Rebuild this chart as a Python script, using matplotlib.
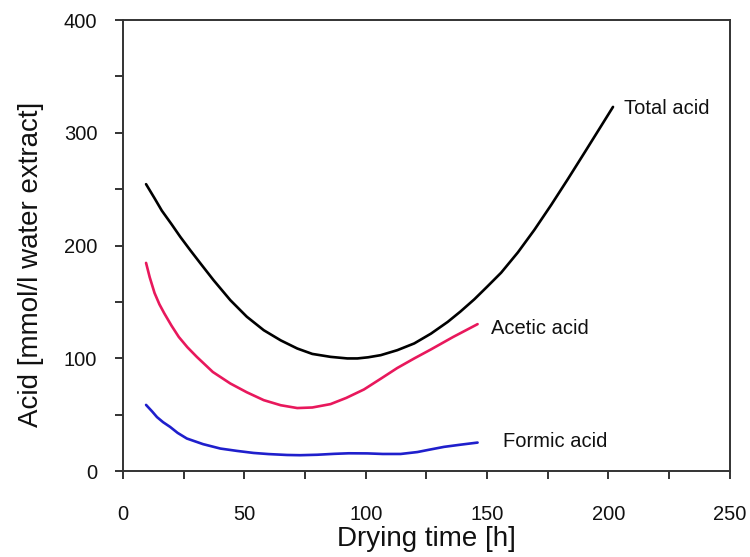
import matplotlib
matplotlib.use("Agg")
import matplotlib.pyplot as plt
from matplotlib.ticker import MultipleLocator

plt.rcParams['font.family'] = ['Liberation Sans', 'DejaVu Sans']

# Drying time [h] and acid concentrations [mmol/l water extract]
total_time = [9.5, 13, 16, 20, 23.6, 27.7, 32, 37.3, 44.2, 51, 58, 65, 71.8, 78, 85.5,
              92.4, 96.6, 101, 106.2, 113, 120, 126.9, 133.8, 139, 144.8, 150, 155.8,
              162.7, 169.5, 176.4, 183.3, 190.2, 197.1, 201.9]
total_acid = [254.5, 242, 231, 219, 207.8, 196, 184, 169.4, 151.7, 137, 125, 116, 108.8,
              104, 101.4, 100, 100, 101, 102.9, 107.3, 113.3, 122, 132.4, 141.5, 152.5,
              163.5, 176, 194, 214, 236, 259, 282.6, 306.4, 323]

acetic_time = [9.5, 11, 13, 15, 17, 20, 23, 26.5, 30.4, 37, 44.2, 51, 58, 65, 71.8, 78,
               85.5, 92, 99.3, 106.2, 113, 120, 126.9, 136, 146.1]
acetic_acid = [184.7, 172, 158, 148, 140, 129, 119, 110, 101.4, 88, 77.8, 70, 63, 58.5,
               56, 56.5, 59.5, 65, 72.5, 82, 91.5, 100, 108, 119, 130.4]

formic_time = [9.5, 12, 14, 16.5, 19.4, 22.5, 26.3, 33, 40.1, 47, 53.8, 60, 67.6, 73,
               80, 86.9, 93, 100.7, 107, 114.4, 121.3, 126, 132.3, 139, 146.1]
formic_acid = [58.8, 53, 48, 43.5, 39.3, 34, 29, 24, 20.1, 18, 16.2, 15.2, 14.4, 14.2,
               14.6, 15.4, 15.9, 15.8, 15.3, 15.3, 17, 19, 21.6, 23.5, 25.4]

fig = plt.figure(figsize=(7.5, 5.57), dpi=100)
ax = fig.add_axes([0.164, 0.154, 0.809, 0.810])

ax.plot(total_time, total_acid, color='black', lw=1.9,
        solid_capstyle='round', solid_joinstyle='round')
ax.plot(acetic_time, acetic_acid, color='#e8185c', lw=1.9,
        solid_capstyle='round', solid_joinstyle='round')
ax.plot(formic_time, formic_acid, color='#1f1fcc', lw=1.9,
        solid_capstyle='round', solid_joinstyle='round')

ax.text(206.3, 321.7, 'Total acid', fontsize=14.5, va='center', ha='left', color='#111111')
ax.text(151.6, 126.8, 'Acetic acid', fontsize=14.5, va='center', ha='left', color='#111111')
ax.text(156.4, 26, 'Formic acid', fontsize=14.5, va='center', ha='left', color='#111111')

ax.set_xlim(0, 250)
ax.set_ylim(0, 400)
ax.xaxis.set_major_locator(MultipleLocator(50))
ax.xaxis.set_minor_locator(MultipleLocator(25))
ax.yaxis.set_major_locator(MultipleLocator(100))
ax.yaxis.set_minor_locator(MultipleLocator(50))

for s in ax.spines.values():
    s.set_linewidth(1.4)
    s.set_color('#333333')

ax.tick_params(axis='both', which='both', direction='out', length=5.5, width=1.4,
               color='#333333', labelsize=14.5, labelcolor='#111111')
ax.tick_params(axis='x', which='major', pad=19)
ax.tick_params(axis='y', which='major', pad=13)

ax.set_xlabel('Drying time [h]', fontsize=20, color='#111111')
ax.set_ylabel('Acid [mmol/l water extract]', fontsize=20, color='#111111')
ax.xaxis.set_label_coords(0.5, -0.122)
ax.yaxis.set_label_coords(-0.13, 0.459)

fig.savefig('out.png', dpi=100)
